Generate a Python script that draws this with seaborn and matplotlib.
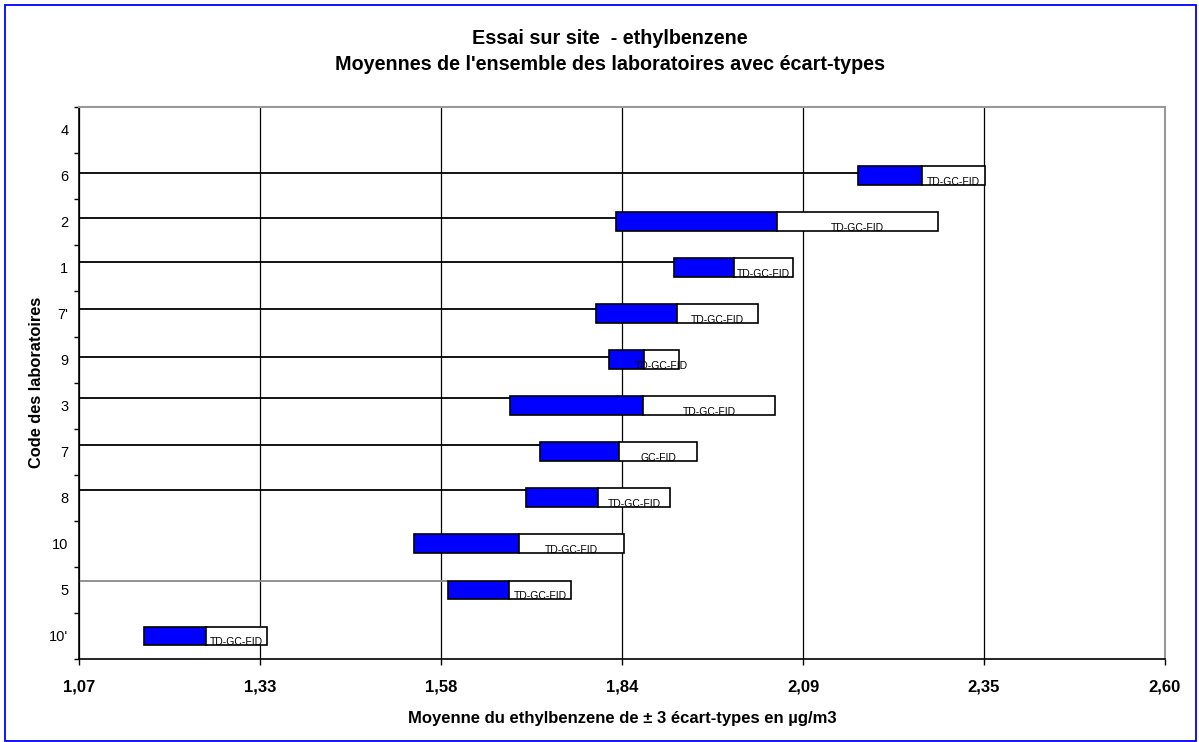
import numpy as np
import pandas as pd
import seaborn as sns
import matplotlib.pyplot as plt
from matplotlib.patches import Rectangle

# Lab codes, top to bottom as in the original chart
labs = ["4", "6", "2", "1", "7'", "9", "3", "7", "8", "10", "5", "10'"]
# Mean ethylbenzene per lab (µg/m3) and 3 standard deviations
means = [np.nan, 2.257, 2.053, 1.992, 1.912, 1.866, 1.864, 1.830, 1.801, 1.690, 1.676, 1.248]
three_sd = [np.nan, 0.089, 0.227, 0.084, 0.114, 0.049, 0.187, 0.111, 0.101, 0.148, 0.087, 0.087]
methods = ["", "TD-GC-FID", "TD-GC-FID", "TD-GC-FID", "TD-GC-FID", "TD-GC-FID",
           "TD-GC-FID", "GC-FID", "TD-GC-FID", "TD-GC-FID", "TD-GC-FID", "TD-GC-FID"]

x_min, x_max = 1.07, 2.60
x_tick_labels = ["1,07", "1,33", "1,58", "1,84", "2,09", "2,35", "2,60"]

sns.set_theme(style="white")
plt.rcParams['font.family'] = ['Liberation Sans', 'DejaVu Sans']
for key in ["text.color", "axes.labelcolor", "xtick.color", "ytick.color"]:
    plt.rcParams[key] = "black"

df = pd.DataFrame({"code": labs, "mean": means, "sd3": three_sd, "method": methods})
df["low"] = df["mean"] - df["sd3"]
df["high"] = df["mean"] + df["sd3"]

fig = plt.figure(figsize=(11.99, 7.42), dpi=100)
ax = fig.add_axes([0.0663, 0.1119, 0.9053, 0.7443])

y = np.arange(len(df))
bar_h = 0.41

# blue part: mean - 3 sd -> mean, white part: mean -> mean + 3 sd
ax.barh(y, df["sd3"], left=df["low"], height=bar_h, color="#0000ff",
        edgecolor="black", linewidth=1.2, zorder=3)
ax.barh(y, df["sd3"], left=df["mean"], height=bar_h, color="white",
        edgecolor="black", linewidth=1.2, zorder=3)

# leader lines from the axis to the start of each bar (style only)
line_dy = [None, 0.065, 0.087, 0.124, 0.10, 0.052, 0.174, 0.16, 0.174, None, 0.19, None]
line_col = ["black"] * 10 + ["#888888", "black"]
for i, row in df.iterrows():
    if line_dy[i] is None or np.isnan(row["low"]):
        continue
    ax.hlines(i - line_dy[i], x_min, row["low"], color=line_col[i], lw=1.3, zorder=2)

# method labels in the white part
for i, row in df.iterrows():
    if not row["method"]:
        continue
    ax.text((row["mean"] + row["high"]) / 2, i + bar_h / 2, row["method"],
            ha="center", va="baseline", fontsize=7.5, zorder=4)

ax.set_xlim(x_min, x_max)
ax.set_ylim(len(df) - 0.5, -0.5)
ax.set_xticks(np.linspace(x_min, x_max, 7))
ax.set_xticklabels(x_tick_labels, fontweight="bold", fontsize=12)
ax.set_yticks(y)
ax.set_yticklabels(labs, fontsize=10.5)
ax.set_yticks(np.arange(len(df) + 1) - 0.5, minor=True)
ax.tick_params(axis="y", which="major", length=0, pad=8)
ax.tick_params(axis="y", which="minor", length=3.5, width=1, color="black", direction="out", left=True)
ax.tick_params(axis="x", which="major", length=4, width=1, color="black", direction="out", bottom=True, pad=10.5)

ax.xaxis.grid(True, color="black", lw=0.9)
ax.yaxis.grid(False)
ax.set_axisbelow(True)

for side in ["top", "right"]:
    ax.spines[side].set_color("#999999")
    ax.spines[side].set_linewidth(1.5)
for side in ["left", "bottom"]:
    ax.spines[side].set_color("black")
    ax.spines[side].set_linewidth(1.2)

ax.set_xlabel("Moyenne du ethylbenzene de ± 3 écart-types en µg/m3", fontweight="bold", fontsize=12, labelpad=12)
ax.set_ylabel("Code des laboratoires", fontweight="bold", fontsize=11.8, labelpad=4)

fig.text(0.509, 1 - 44.5 / 742, "Essai sur site  - ethylbenzene", ha="center", va="baseline",
         fontweight="bold", fontsize=14.2)
fig.text(0.509, 1 - 70 / 742, "Moyennes de l'ensemble des laboratoires avec écart-types", ha="center",
         va="baseline", fontweight="bold", fontsize=14.2)

# blue frame around the whole chart
fig.patches.append(Rectangle((4.5 / 1199, 1.5 / 742), 1191 / 1199, 735.5 / 742, transform=fig.transFigure,
                             fill=False, edgecolor="#0000ff", linewidth=1.3))

fig.savefig("out.png", dpi=100)
